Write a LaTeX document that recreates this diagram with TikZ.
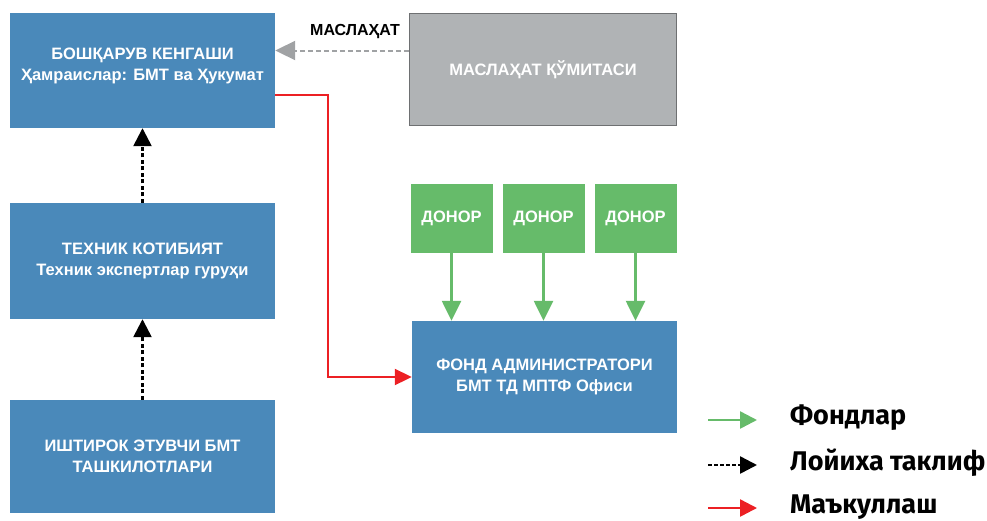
\documentclass[tikz,border=0pt]{standalone}
\usepackage{fontspec}
\setmainfont{Liberation Sans}
\newfontfamily\legendfont{Fira Sans}
\usetikzlibrary{arrows.meta,positioning,calc}
\definecolor{boxblue}{RGB}{74,137,186}
\definecolor{donorgreen}{RGB}{102,187,106}
\definecolor{advgray}{RGB}{176,179,181}
\definecolor{advborder}{RGB}{110,112,114}
\definecolor{arrgray}{RGB}{160,162,164}
\definecolor{arrred}{RGB}{236,32,36}
\definecolor{arrgreen}{RGB}{102,187,106}
\tikzset{
  boxfont/.style={font=\bfseries\fontsize{16.5}{21}\selectfont},
  bluebox/.style={fill=boxblue, draw=none, text=white, boxfont, align=center, inner sep=0pt},
  donorbox/.style={fill=donorgreen, draw=none, text=white, boxfont, align=center, inner sep=0pt, minimum width=82pt, minimum height=69pt},
  graybox/.style={fill=advgray, draw=advborder, line width=1.5pt, text=white, boxfont, align=center, inner sep=0pt},
  fundarrow/.style={draw=arrgreen, line width=2.5pt, -{Triangle[length=20pt,width=19pt]}},
  proparrow/.style={draw=black, line width=2.5pt, dash pattern=on 4pt off 2.5pt, -{Triangle[length=18pt,width=18pt]}},
  approvarrow/.style={draw=arrred, line width=2pt, -{Triangle[length=17pt,width=16pt]}},
  advarrow/.style={draw=arrgray, line width=2pt, dash pattern=on 5pt off 3pt, -{Triangle[length=20pt,width=19pt]}},
  legarrowg/.style={draw=arrgreen, line width=2.5pt, -{Triangle[length=17pt,width=17pt]}},
  legarrowk/.style={draw=black, line width=2.5pt, dash pattern=on 4pt off 2pt, -{Triangle[length=17pt,width=17pt]}},
  legarrowr/.style={draw=arrred, line width=2.5pt, -{Triangle[length=17pt,width=17pt]}},
  legtext/.style={anchor=west, font=\legendfont\bfseries\fontsize{27}{30}\selectfont, inner sep=0pt},
  advlabel/.style={font=\bfseries\fontsize{16}{19}\selectfont, inner sep=0pt}
}
\begin{document}
\begin{tikzpicture}[x=1pt,y=-1pt]
\useasboundingbox (0,0) rectangle (987,520);
% blue boxes
\node[bluebox, minimum width=265pt, minimum height=115pt] (b1) at (142.5,70.5) {};
\node[text=white, boxfont, align=center, inner sep=0pt] (t1) at (142.5,66) {БОШҚАРУВ КЕНГАШИ\\Ҳамраислар: БМТ ва Ҳукумат};
\node[bluebox, minimum width=265pt, minimum height=116pt] (b2) at (142.5,261) {ТЕХНИК КОТИБИЯТ\\Техник экспертлар гуруҳи};
\node[bluebox, minimum width=265pt, minimum height=113pt] (b3) at (142.5,456.5) {ИШТИРОК ЭТУВЧИ БМТ\\ТАШКИЛОТЛАРИ};
\node[graybox, minimum width=267pt, minimum height=112pt] (gray) at (543,69.5) {МАСЛАҲАТ ҚЎМИТАСИ};
% donors
\node[donorbox] (d1) at (451.5,218.5) {ДОНОР};
\node[donorbox] (d2) at (543.5,218.5) {ДОНОР};
\node[donorbox] (d3) at (635.5,218.5) {ДОНОР};
% fund admin
\node[bluebox, minimum width=265pt, minimum height=112pt] (fa) at (544.5,377) {ФОНД АДМИНИСТРАТОРИ\\БМТ ТД МПТФ Офиси};
% connectors
\draw[fundarrow] (d1.south) -- (d1.south |- fa.north);
\draw[fundarrow] (d2.south) -- (d2.south |- fa.north);
\draw[fundarrow] (d3.south) -- (d3.south |- fa.north);
\draw[proparrow] (b3.north) -- (b2.south);
\draw[proparrow] (b2.north) -- (b1.south);
\coordinate (g1) at ([yshift=19pt]gray.west);
\draw[advarrow] (g1) -- (g1 -| b1.east);
\node[advlabel] (advl) at (355,32) {МАСЛАҲАТ};
\coordinate (r1) at ([yshift=-24pt]b1.east);
\coordinate (r2) at ($(fa.west)$);
\draw[approvarrow] (r1) -| (328,377) -- (r2);
% legend
\coordinate (lg1) at (708,420);
\coordinate (lg2) at (757,420);
\coordinate (lk1) at (708,465);
\coordinate (lk2) at (757,465);
\coordinate (lr1) at (708,508);
\coordinate (lr2) at (757,508);
\draw[legarrowg] (lg1) -- (lg2);
\draw[legarrowk] (lk1) -- (lk2);
\draw[legarrowr] (lr1) -- (lr2);
\node[legtext] (lt1) at (790,418) {Фондлар};
\node[legtext] (lt2) at (790,463) {Лойиха таклиф};
\node[legtext] (lt3) at (790,507) {Маъкуллаш};
\end{tikzpicture}
\end{document}
